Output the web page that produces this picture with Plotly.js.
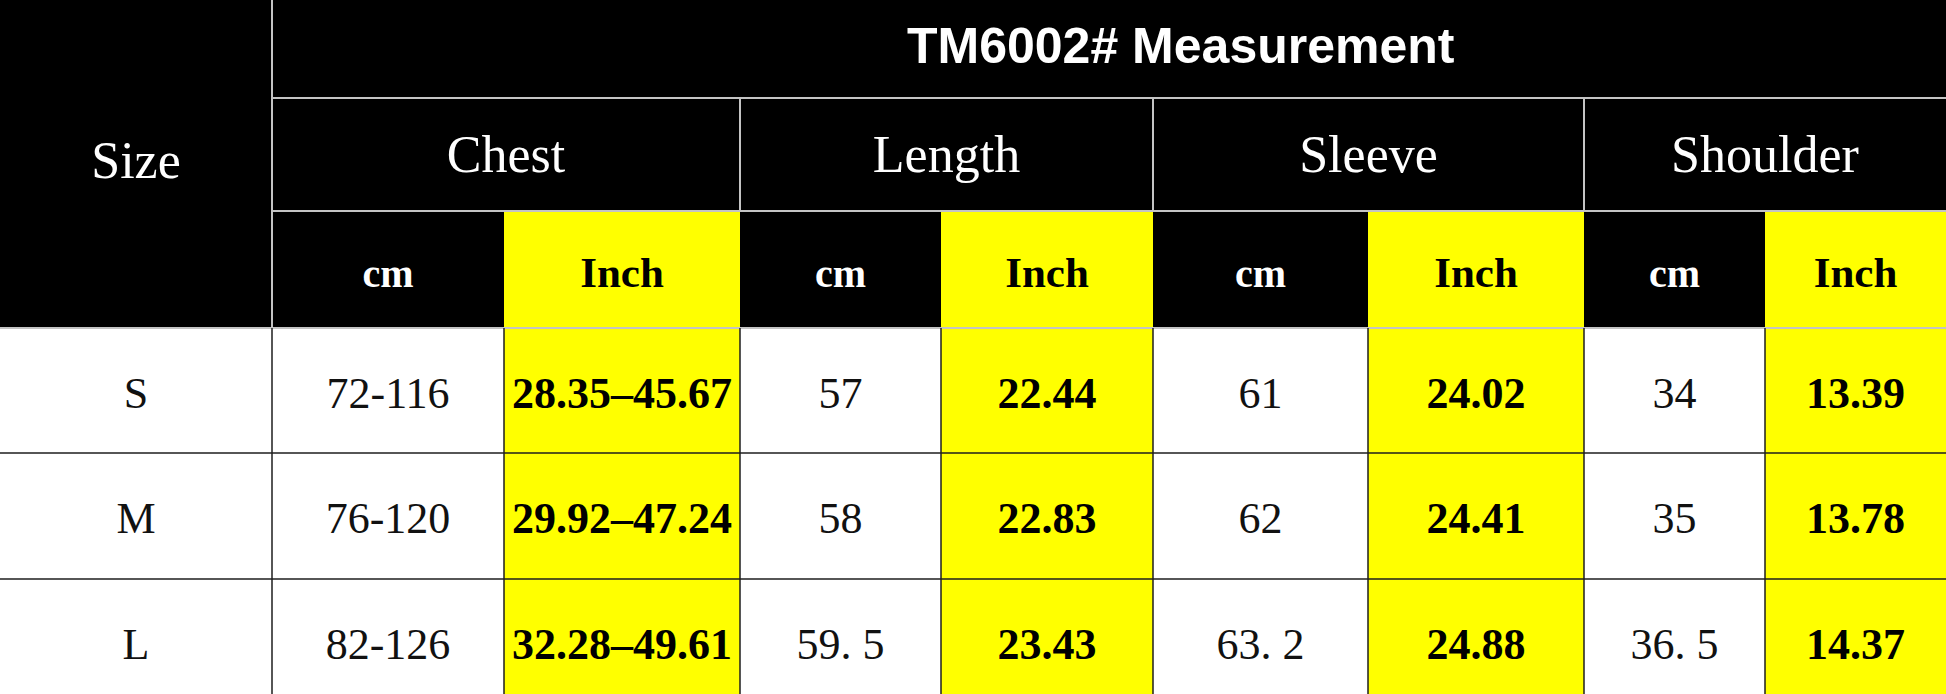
<!DOCTYPE html>
<html>
<head>
<meta charset="utf-8">
<script src="https://cdn.plot.ly/plotly-3.0.1.min.js"></script>
<style>
  html, body { margin: 0; padding: 0; background: #fff; }
  #chartBox { width: 1946px; height: 694px; }
</style>
</head>
<body>
<div id="chartBox"></div>
<script>
// 표 데이터
const title = 'TM6002# Measurement';
const sizeLabel = 'Size';
const sizes = ['S', 'M', 'L'];
const groups = ['Chest', 'Length', 'Sleeve', 'Shoulder'];
const units = ['cm', 'Inch'];
const chestCm = ['72-116', '76-120', '82-126'];
const chestInch = ['28.35–45.67', '29.92–47.24', '32.28–49.61'];
const lengthCm = ['57', '58', '59. 5'];
const lengthInch = ['22.44', '22.83', '23.43'];
const sleeveCm = ['61', '62', '63. 2'];
const sleeveInch = ['24.02', '24.41', '24.88'];
const shoulderCm = ['34', '35', '36. 5'];
const shoulderInch = ['13.39', '13.78', '14.37'];

// 레이아웃 (픽셀 단위 격자)
const colEdges = [0, 272, 504, 740, 941, 1153, 1368, 1584, 1765, 1946];
const rowEdges = [0, 98, 211, 328, 453, 579, 704];
const W = 1946, H = 694;
const YELLOW = '#ffff00';
const HEAD_LINE = '#c4c4c4';
const BODY_LINE = '#1e1e1e';

const cx = i => (colEdges[i] + colEdges[i + 1]) / 2;
const cy = r => (rowEdges[r] + rowEdges[r + 1]) / 2;

function drawChart() {
    const bodyCols = [chestCm, chestInch, lengthCm, lengthInch, sleeveCm, sleeveInch, shoulderCm, shoulderInch];
    const shapes = [];
    const rect = (x0, y0, x1, y1, color) => shapes.push({
        type: 'rect', xref: 'x', yref: 'y', x0, y0, x1, y1,
        fillcolor: color, line: { width: 0 }, layer: 'below'
    });
    const line = (x0, y0, x1, y1, color, width) => shapes.push({
        type: 'line', xref: 'x', yref: 'y', x0, y0, x1, y1,
        line: { color: color, width: width }
    });

    // 배경
    rect(0, rowEdges[0], W, rowEdges[3], '#000000');
    bodyCols.forEach((col, k) => {
        if (k % 2 === 1) {
            rect(colEdges[k + 1], rowEdges[2], colEdges[k + 2], rowEdges[6], YELLOW);
        }
    });

    // 헤더 선
    line(colEdges[1], rowEdges[1], W, rowEdges[1], HEAD_LINE, 2);
    line(colEdges[1], rowEdges[2], W, rowEdges[2], HEAD_LINE, 2);
    line(colEdges[1], rowEdges[0], colEdges[1], rowEdges[3], HEAD_LINE, 2);
    groups.forEach((g, i) => {
        if (i > 0) line(colEdges[1 + i * 2], rowEdges[1], colEdges[1 + i * 2], rowEdges[2], HEAD_LINE, 2);
    });
    line(0, rowEdges[3], W, rowEdges[3], HEAD_LINE, 2);

    // 본문 선
    for (let r = 4; r < rowEdges.length - 1; r++) {
        line(0, rowEdges[r], W, rowEdges[r], BODY_LINE, 1.5);
    }
    for (let c = 1; c < colEdges.length - 1; c++) {
        line(colEdges[c], rowEdges[3], colEdges[c], rowEdges[6], BODY_LINE, 1.5);
    }

    // 텍스트
    const headX = [cx(0)], headY = [(rowEdges[0] + rowEdges[3]) / 2 + 1], headT = [sizeLabel];
    groups.forEach((g, i) => {
        headX.push((colEdges[1 + i * 2] + colEdges[3 + i * 2]) / 2);
        headY.push(cy(1) + 4);
        headT.push(g);
    });

    const cmHeadX = [], cmHeadY = [], cmHeadT = [];
    const inHeadX = [], inHeadY = [], inHeadT = [];
    groups.forEach((g, i) => {
        cmHeadX.push(cx(1 + i * 2)); cmHeadY.push(cy(2) + 7); cmHeadT.push(units[0]);
        inHeadX.push(cx(2 + i * 2)); inHeadY.push(cy(2) + 7); inHeadT.push(units[1]);
    });

    const regX = [], regY = [], regT = [];
    const boldX = [], boldY = [], boldT = [];
    sizes.forEach((s, r) => {
        regX.push(cx(0)); regY.push(cy(3 + r) + 6); regT.push(s);
        bodyCols.forEach((col, k) => {
            if (k % 2 === 0) {
                regX.push(cx(k + 1)); regY.push(cy(3 + r) + 6); regT.push(col[r]);
            } else {
                boldX.push(cx(k + 1)); boldY.push(cy(3 + r) + 6); boldT.push(col[r]);
            }
        });
    });

    const textTrace = (x, y, text, font) => ({
        x, y, text, type: 'scatter', mode: 'text',
        textposition: 'middle center', hoverinfo: 'skip',
        textfont: font, showlegend: false
    });

    const serif = 'Liberation Serif, Times New Roman, serif';
    const data = [
        textTrace(headX, headY, headT, { family: serif, size: 52, color: '#ffffff' }),
        textTrace(cmHeadX, cmHeadY, cmHeadT, { family: serif, size: 40, color: '#ffffff', weight: 'bold' }),
        textTrace(inHeadX, inHeadY, inHeadT, { family: serif, size: 43, color: '#000000', weight: 'bold' }),
        textTrace(regX, regY, regT, { family: serif, size: 44, color: '#111111' }),
        textTrace(boldX, boldY, boldT, { family: serif, size: 44, color: '#000000', weight: 'bold' }),
    ];

    const layout = {
        width: W, height: H,
        margin: { l: 0, r: 0, t: 0, b: 0 },
        paper_bgcolor: '#ffffff', plot_bgcolor: '#ffffff',
        xaxis: { range: [0, W], visible: false, fixedrange: true },
        yaxis: { range: [H, 0], visible: false, fixedrange: true },
        shapes: shapes,
        annotations: [{
            x: 1181, y: cy(0) - 3, xref: 'x', yref: 'y',
            text: title, showarrow: false,
            font: { family: 'Liberation Sans, Arial, sans-serif', size: 50, color: '#ffffff', weight: 'bold' }
        }]
    };

    Plotly.newPlot('chartBox', data, layout, { staticPlot: true, displayModeBar: false });
}

drawChart();
</script>
</body>
</html>
